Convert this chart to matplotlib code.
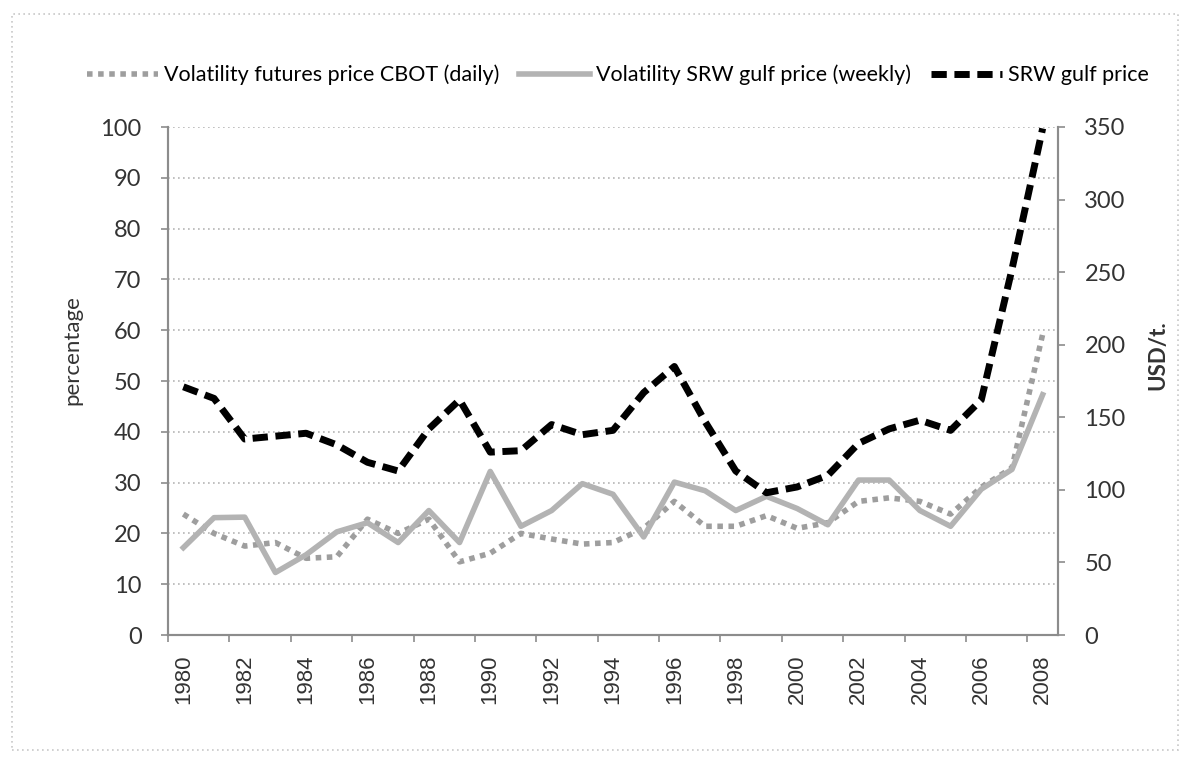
import matplotlib
matplotlib.use('Agg')
import matplotlib.pyplot as plt
from matplotlib.patches import Rectangle

# data
years = list(range(1980, 2009))
vol_cbot_daily = [23.8, 20.0, 17.5, 18.2, 15.1, 15.4, 22.8, 20.0, 22.8, 14.4,
                  16.1, 20.0, 18.9, 17.9, 18.2, 21.0, 26.3, 21.4, 21.4, 23.5,
                  21.0, 22.1, 26.3, 27.0, 26.3, 23.8, 29.1, 32.9, 59.2]
vol_srw_weekly = [17.2, 23.1, 23.2, 12.3, 15.8, 20.3, 22.1, 18.2, 24.5, 18.2,
                  32.2, 21.4, 24.5, 29.8, 27.7, 19.3, 30.1, 28.4, 24.5, 27.3,
                  24.9, 21.7, 30.5, 30.5, 24.5, 21.4, 28.7, 32.6, 47.3]
srw_gulf_price = [171, 163, 135, 137, 139, 131, 119, 113, 142, 162,
                  126, 127, 145, 138, 141, 167, 185, 147, 113, 98,
                  102, 110, 132, 142, 148, 141, 162, 252, 349]
year_labels = [str(y) for y in range(1980, 2009, 2)]

label_font = 'Lato'
axis_grey = '#8c8c8c'

fig = plt.figure(figsize=(11.87, 7.64), dpi=100)
ax = fig.add_axes([168 / 1187, 129 / 764, 890 / 1187, 508 / 764])
ax2 = ax.twinx()

# left axis: volatility in percent
l1, = ax.plot(years, vol_cbot_daily, color='#9e9e9e', lw=4,
              linestyle=(0, (1, 1)), label='Volatility futures price CBOT (daily)')
l2, = ax.plot(years, vol_srw_weekly, color='#b3b3b3', lw=4,
              label='Volatility SRW gulf price (weekly)')
# right axis: price level
l3, = ax2.plot(years, srw_gulf_price, color='black', lw=5,
               linestyle=(0, (2.2, 1.1)), label='SRW gulf price')

ax.set_xlim(1979.5, 2008.5)
ax.set_ylim(0, 100)
ax2.set_ylim(0, 350)
ax.set_yticks(range(0, 101, 10))
ax2.set_yticks(range(0, 351, 50))

ax.set_xticks(range(1980, 2009, 2))
ax.set_xticklabels(year_labels, rotation=90, fontsize=16,
                   family='Liberation Sans', color='#333333')
ax.set_xticks([y - 0.5 for y in range(1980, 2009, 2)], minor=True)
ax.tick_params(axis='x', which='major', length=0, pad=14)
ax.tick_params(axis='x', which='minor', length=5, color=axis_grey, width=1.2)

ax.tick_params(axis='y', length=5, color=axis_grey, width=1.2, pad=14,
               labelsize=17, labelcolor='#333333')
ax2.tick_params(axis='y', length=5, color=axis_grey, width=1.2, pad=14,
                labelsize=17, labelcolor='#333333')
for lab in ax.get_yticklabels() + ax2.get_yticklabels():
    lab.set_family(label_font)

ax.grid(axis='y', linestyle=(0, (1, 2)), color='#b5b5b5', lw=1.2)
ax.set_axisbelow(True)

for a in (ax, ax2):
    a.spines['top'].set_visible(False)
    for s in ('left', 'right', 'bottom'):
        a.spines[s].set_color(axis_grey)
        a.spines[s].set_linewidth(1.5)

# axis titles placed by hand, both reading bottom to top
fig.text(72 / 1187, 1 - 350 / 764, 'percentage', rotation=90, ha='center', va='center',
         fontsize=16, family=label_font, color='#333333')
fig.text(1158 / 1187, 1 - 355 / 764, 'USD/t.', rotation=90, ha='center', va='center',
         fontsize=16, family=label_font, fontweight='bold', color='#333333')

fig.legend(handles=[l1, l2, l3], loc='center', bbox_to_anchor=(618 / 1187, 1 - 75 / 764),
           ncol=3, frameon=False, handlelength=3.3, columnspacing=0.9, handletextpad=0.3,
           prop={'family': label_font, 'size': 15.5})

# dotted frame around the whole chart
fig.patches.append(Rectangle((12 / 1187, 14 / 764), 1166 / 1187, 736 / 764,
                             transform=fig.transFigure, fill=False,
                             edgecolor='#c8c8c8', lw=1.2, linestyle=(0, (1, 2))))

fig.savefig('out.png', dpi=100)
